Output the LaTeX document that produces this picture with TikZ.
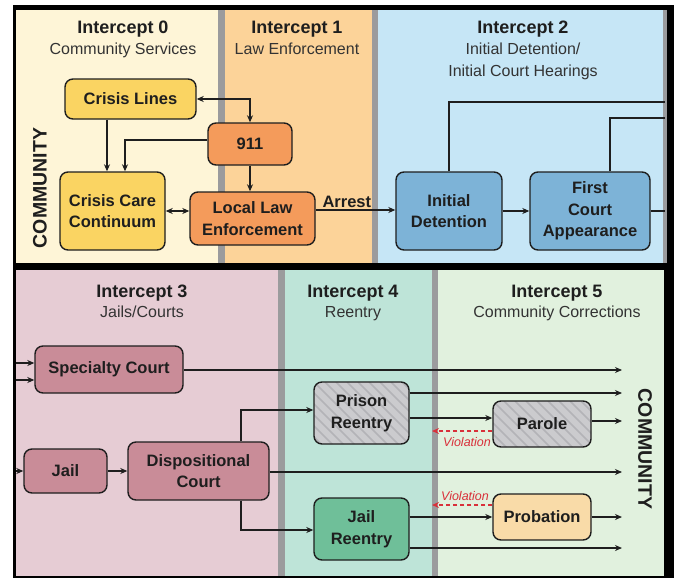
\documentclass[tikz,border=0pt]{standalone}
\usepackage{fontspec}
\setmainfont{Liberation Sans}
\usetikzlibrary{arrows.meta}
\definecolor{bgA}{HTML}{FEF5D7}
\definecolor{bgB}{HTML}{FCD399}
\definecolor{bgC}{HTML}{C6E6F6}
\definecolor{bgD}{HTML}{E6CCD4}
\definecolor{bgE}{HTML}{BEE4D8}
\definecolor{bgF}{HTML}{E1F1DE}
\definecolor{divg}{HTML}{9B9B9D}
\definecolor{yel}{HTML}{FAD462}
\definecolor{org}{HTML}{F49B5B}
\definecolor{blu}{HTML}{7DB3D7}
\definecolor{mau}{HTML}{C98C98}
\definecolor{hgray}{HTML}{CBCBCE}
\definecolor{hline}{HTML}{B3B3B7}
\definecolor{grn}{HTML}{6FBF99}
\definecolor{prb}{HTML}{F9DBA8}
\definecolor{txt}{HTML}{1E1E1E}
\definecolor{txtb}{HTML}{333333}
\definecolor{vred}{HTML}{D9303A}
\tikzset{
  box/.style={draw=txt, line width=1.4pt, rounded corners=8pt, align=center,
    font=\fontsize{16.5}{21.5}\selectfont\bfseries, text=txt, inner sep=0pt},
  hatch/.style={fill=hgray, path picture={
    \foreach \k in {-8,...,10}
      \draw[hline, line width=1.6pt] ([xshift=\k*11pt]path picture bounding box.north west) -- ++(80pt,-80pt);}},
  title/.style={font=\fontsize{18}{22}\selectfont\bfseries, anchor=base, text=txt},
  sub/.style={font=\fontsize{16}{20}\selectfont, anchor=base, text=txtb},
  conn/.style={draw=txt, line width=1.3pt},
  viol/.style={draw=vred, line width=1.3pt, dash pattern=on 4pt off 3pt, -{Stealth[length=7pt,width=6pt]}},
  viollab/.style={font=\fontsize{12.5}{14}\selectfont\itshape, text=vred},
  comm/.style={font=\fontsize{19.5}{22}\selectfont\bfseries, text=txt},
  lab/.style={font=\fontsize{16.5}{20}\selectfont\bfseries, text=txt}
}
\begin{document}
\begin{tikzpicture}[x=1pt,y=-1pt, >={Stealth[length=7pt,width=6pt]}]
\useasboundingbox (0,0) rectangle (674,578);
\fill[black] (13,5) rectangle (674,578);
% top panel
\fill[bgA] (16,10) rectangle (218,263);
\fill[divg] (218,10) rectangle (225,263);
\fill[bgB] (225,10) rectangle (372,263);
\fill[divg] (372,10) rectangle (378,263);
\fill[bgC] (378,10) rectangle (663,263);
\fill[divg] (663,10) rectangle (667,263);
% bottom panel
\fill[bgD] (16,270) rectangle (278,576);
\fill[divg] (278,270) rectangle (285,576);
\fill[bgE] (285,270) rectangle (432,576);
\fill[divg] (432,270) rectangle (438,576);
\fill[bgF] (438,270) rectangle (664,576);

% titles
\node[title] (t0) at (123,34) {Intercept 0};
\node[sub] (s0) at (123,55) {Community Services};
\node[title] (t1) at (297,34) {Intercept 1};
\node[sub] (s1) at (297,55) {Law Enforcement};
\node[title] (t2) at (523,34) {Intercept 2};
\node[sub] (s2a) at (523,55) {Initial Detention/};
\node[sub] (s2b) at (523,76) {Initial Court Hearings};
\node[title] (t3) at (142,297) {Intercept 3};
\node[sub] (s3) at (142,317) {Jails/Courts};
\node[title] (t4) at (353,297) {Intercept 4};
\node[sub] (s4) at (353,317) {Reentry};
\node[title] (t5) at (557,297) {Intercept 5};
\node[sub] (s5) at (557,317) {Community Corrections};

\node[comm, rotate=90] (cm1) at (40,188) {COMMUNITY};
\node[comm, rotate=-90] (cm2) at (645,449) {COMMUNITY};

% nodes top
\node[box, fill=yel, minimum width=131pt, minimum height=40pt] (cl) at (130.5,99) {Crisis Lines};
\node[box, fill=org, minimum width=84pt, minimum height=42pt] (n911) at (250,144) {911};
\node[box, fill=yel, minimum width=105pt, minimum height=78pt] (cc) at (112.5,211) {Crisis Care\\Continuum};
\node[box, fill=org, minimum width=125pt, minimum height=53pt] (lle) at (252.5,218.5) {Local Law\\Enforcement};
\node[box, fill=blu, minimum width=106pt, minimum height=78pt] (id) at (449,211) {Initial\\Detention};
\node[box, fill=blu, minimum width=120pt, minimum height=78pt] (fca) at (590,211) {First\\Court\\Appearance};
% nodes bottom
\node[box, fill=mau, minimum width=148pt, minimum height=47pt] (sc) at (109,369.5) {Specialty Court};
\node[box, fill=mau, minimum width=83pt, minimum height=44pt] (jail) at (65.5,471) {Jail};
\node[box, fill=mau, minimum width=141pt, minimum height=58pt] (dc) at (198.5,471) {Dispositional\\Court};
\node[box, hatch, minimum width=95pt, minimum height=62pt] (pr) at (361.5,413) {Prison\\Reentry};
\node[box, hatch, minimum width=98pt, minimum height=46pt] (par) at (542,424) {Parole};
\node[box, fill=grn, minimum width=95pt, minimum height=62pt] (jr) at (361.5,529) {Jail\\Reentry};
\node[box, fill=prb, minimum width=98pt, minimum height=46pt] (prob) at (542,517) {Probation};

% top connectors
\draw[conn, <->] (cl.east) -| (n911.north);
\coordinate (ccin1) at ([xshift=-5.5pt]cc.north);
\draw[conn, ->] (cl.south -| ccin1) -- (ccin1);
\coordinate (ccin2) at ([xshift=12.5pt]cc.north);
\draw[conn, ->] ([yshift=4pt]n911.west) -| (ccin2);
\draw[conn, ->] (n911.south) -- (n911.south |- lle.north);
\draw[conn, <->] (cc.east) -- (cc.east -| lle.west);
\coordinate (arrs) at ([yshift=8.5pt]lle.east);
\draw[conn, ->] (arrs) -- (arrs -| id.west);
\node[lab, anchor=base west] (arr) at (319,207) {Arrest};
\draw[conn, ->] (id.east) -- (fca.west);
\coordinate (r1) at (665,102);
\draw[conn] (id.north) |- (r1);
\coordinate (r2) at (665,118);
\draw[conn] ([xshift=20pt]fca.north) |- (r2);
\coordinate (r3) at (665,211);
\draw[conn] (fca.east) -- (r3);

% bottom connectors
\coordinate (l1) at (16,363);
\draw[conn, ->] (l1) -- (l1 -| sc.west);
\coordinate (l2) at (16,380);
\draw[conn, ->] (l2) -- (l2 -| sc.west);
\coordinate (l3) at (16,471);
\draw[conn, ->] (l3) -- (jail.west);
\draw[conn, ->] (jail.east) -- (dc.west);
\coordinate (e1) at (622,370);
\draw[conn, ->] (sc.east |- e1) -- (e1);
\coordinate (e2) at (622,393);
\draw[conn, ->] (pr.east |- e2) -- (e2);
\coordinate (pp) at ([yshift=-5pt]pr.east);
\draw[conn, ->] (pp) -- (pp -| par.west);
\coordinate (e3) at (622,421);
\draw[conn, ->] (par.east |- e3) -- (e3);
\coordinate (v1) at (432,431);
\draw[viol] (par.west |- v1) -- (v1);
\node[viollab] (vl1) at (467,442) {Violation};
\coordinate (e4) at (622,472);
\draw[conn, ->] (dc.east |- e4) -- (e4);
\coordinate (pin) at ([yshift=3pt]pr.west);
\draw[conn, ->] ([xshift=42.5pt]dc.north) |- (pin);
\coordinate (jin) at ([yshift=-1pt]jr.west);
\draw[conn, ->] ([xshift=42.5pt]dc.south) |- (jin);
\draw[conn, ->] (jr.east |- prob.west) -- (prob.west);
\coordinate (e5) at (622,517);
\draw[conn, ->] (prob.east) -- (e5);
\coordinate (v2) at (432,505);
\draw[viol] (prob.west |- v2) -- (v2);
\node[viollab] (vl2) at (465,496) {Violation};
\coordinate (e6) at (622,548);
\draw[conn, ->] (jr.east |- e6) -- (e6);
\end{tikzpicture}
\end{document}
